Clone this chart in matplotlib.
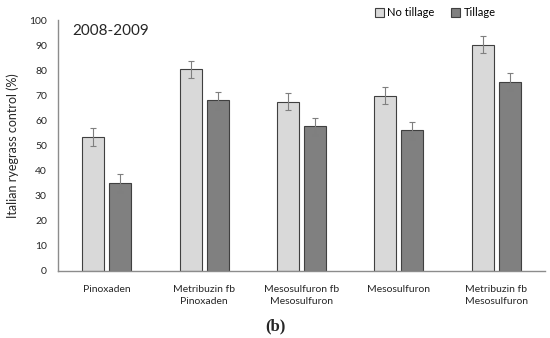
import numpy as np
import matplotlib.pyplot as plt

categories = ['Pinoxaden', 'Metribuzin fb\nPinoxaden', 'Mesosulfuron fb\nMesosulfuron',
              'Mesosulfuron', 'Metribuzin fb\nMesosulfuron']
no_tillage = [53.4, 80.3, 67.5, 69.9, 90.2]
no_tillage_err = [3.4, 3.5, 3.3, 3.4, 3.3]
tillage = [34.9, 68.0, 57.7, 56.0, 75.4]
tillage_err = [3.6, 3.5, 3.4, 3.4, 3.4]

plt.rcParams['font.family'] = ['Lato', 'DejaVu Sans']

fig = plt.figure(figsize=(5.5, 3.38), dpi=100)
ax = fig.add_axes([58 / 550, 67 / 338, 487 / 550, 251 / 338])

x = np.arange(len(categories))
w = 0.225
off = 0.139
err_kw = dict(ecolor='#7f7f7f', elinewidth=0.8, capsize=2, capthick=0.8)
ax.bar(x - off, no_tillage, w, yerr=no_tillage_err, color='#d9d9d9',
       edgecolor='#404040', linewidth=0.8, error_kw=err_kw, label='No tillage')
ax.bar(x + off, tillage, w, yerr=tillage_err, color='#808080',
       edgecolor='#404040', linewidth=0.8, error_kw=err_kw, label='Tillage')

ax.set_xlim(-0.5, len(categories) - 0.5)
ax.set_ylim(0, 100)
ax.set_yticks(np.arange(0, 101, 10))
ax.set_xticks(x)
ax.set_xticklabels(categories, fontsize=7, color='#262626', linespacing=1.5)
ax.tick_params(axis='both', length=0, labelsize=7.5, colors='#262626')
ax.tick_params(axis='x', pad=10)
ax.tick_params(axis='y', pad=8)
for s in ['top', 'right']:
    ax.spines[s].set_visible(False)
for s in ['left', 'bottom']:
    ax.spines[s].set_color('#8c8c8c')
    ax.spines[s].set_linewidth(1)

ax.set_ylabel('Italian ryegrass control (%)', fontsize=9, color='#262626', labelpad=7)
ax.text(0.03, 0.985, '2008-2009', transform=ax.transAxes, fontsize=11,
        va='top', ha='left', color='#262626')
ax.legend(loc='upper center', bbox_to_anchor=(0.775, 1.09), ncol=2, frameon=False,
          fontsize=8, handlelength=0.8, handleheight=0.8, handletextpad=0.3,
          columnspacing=1.5)

fig.text(0.5, 0.035, '(b)', ha='center', va='center', fontsize=12,
         family='Liberation Serif', fontweight='bold', color='#262626')

fig.savefig('out.png', dpi=100)
